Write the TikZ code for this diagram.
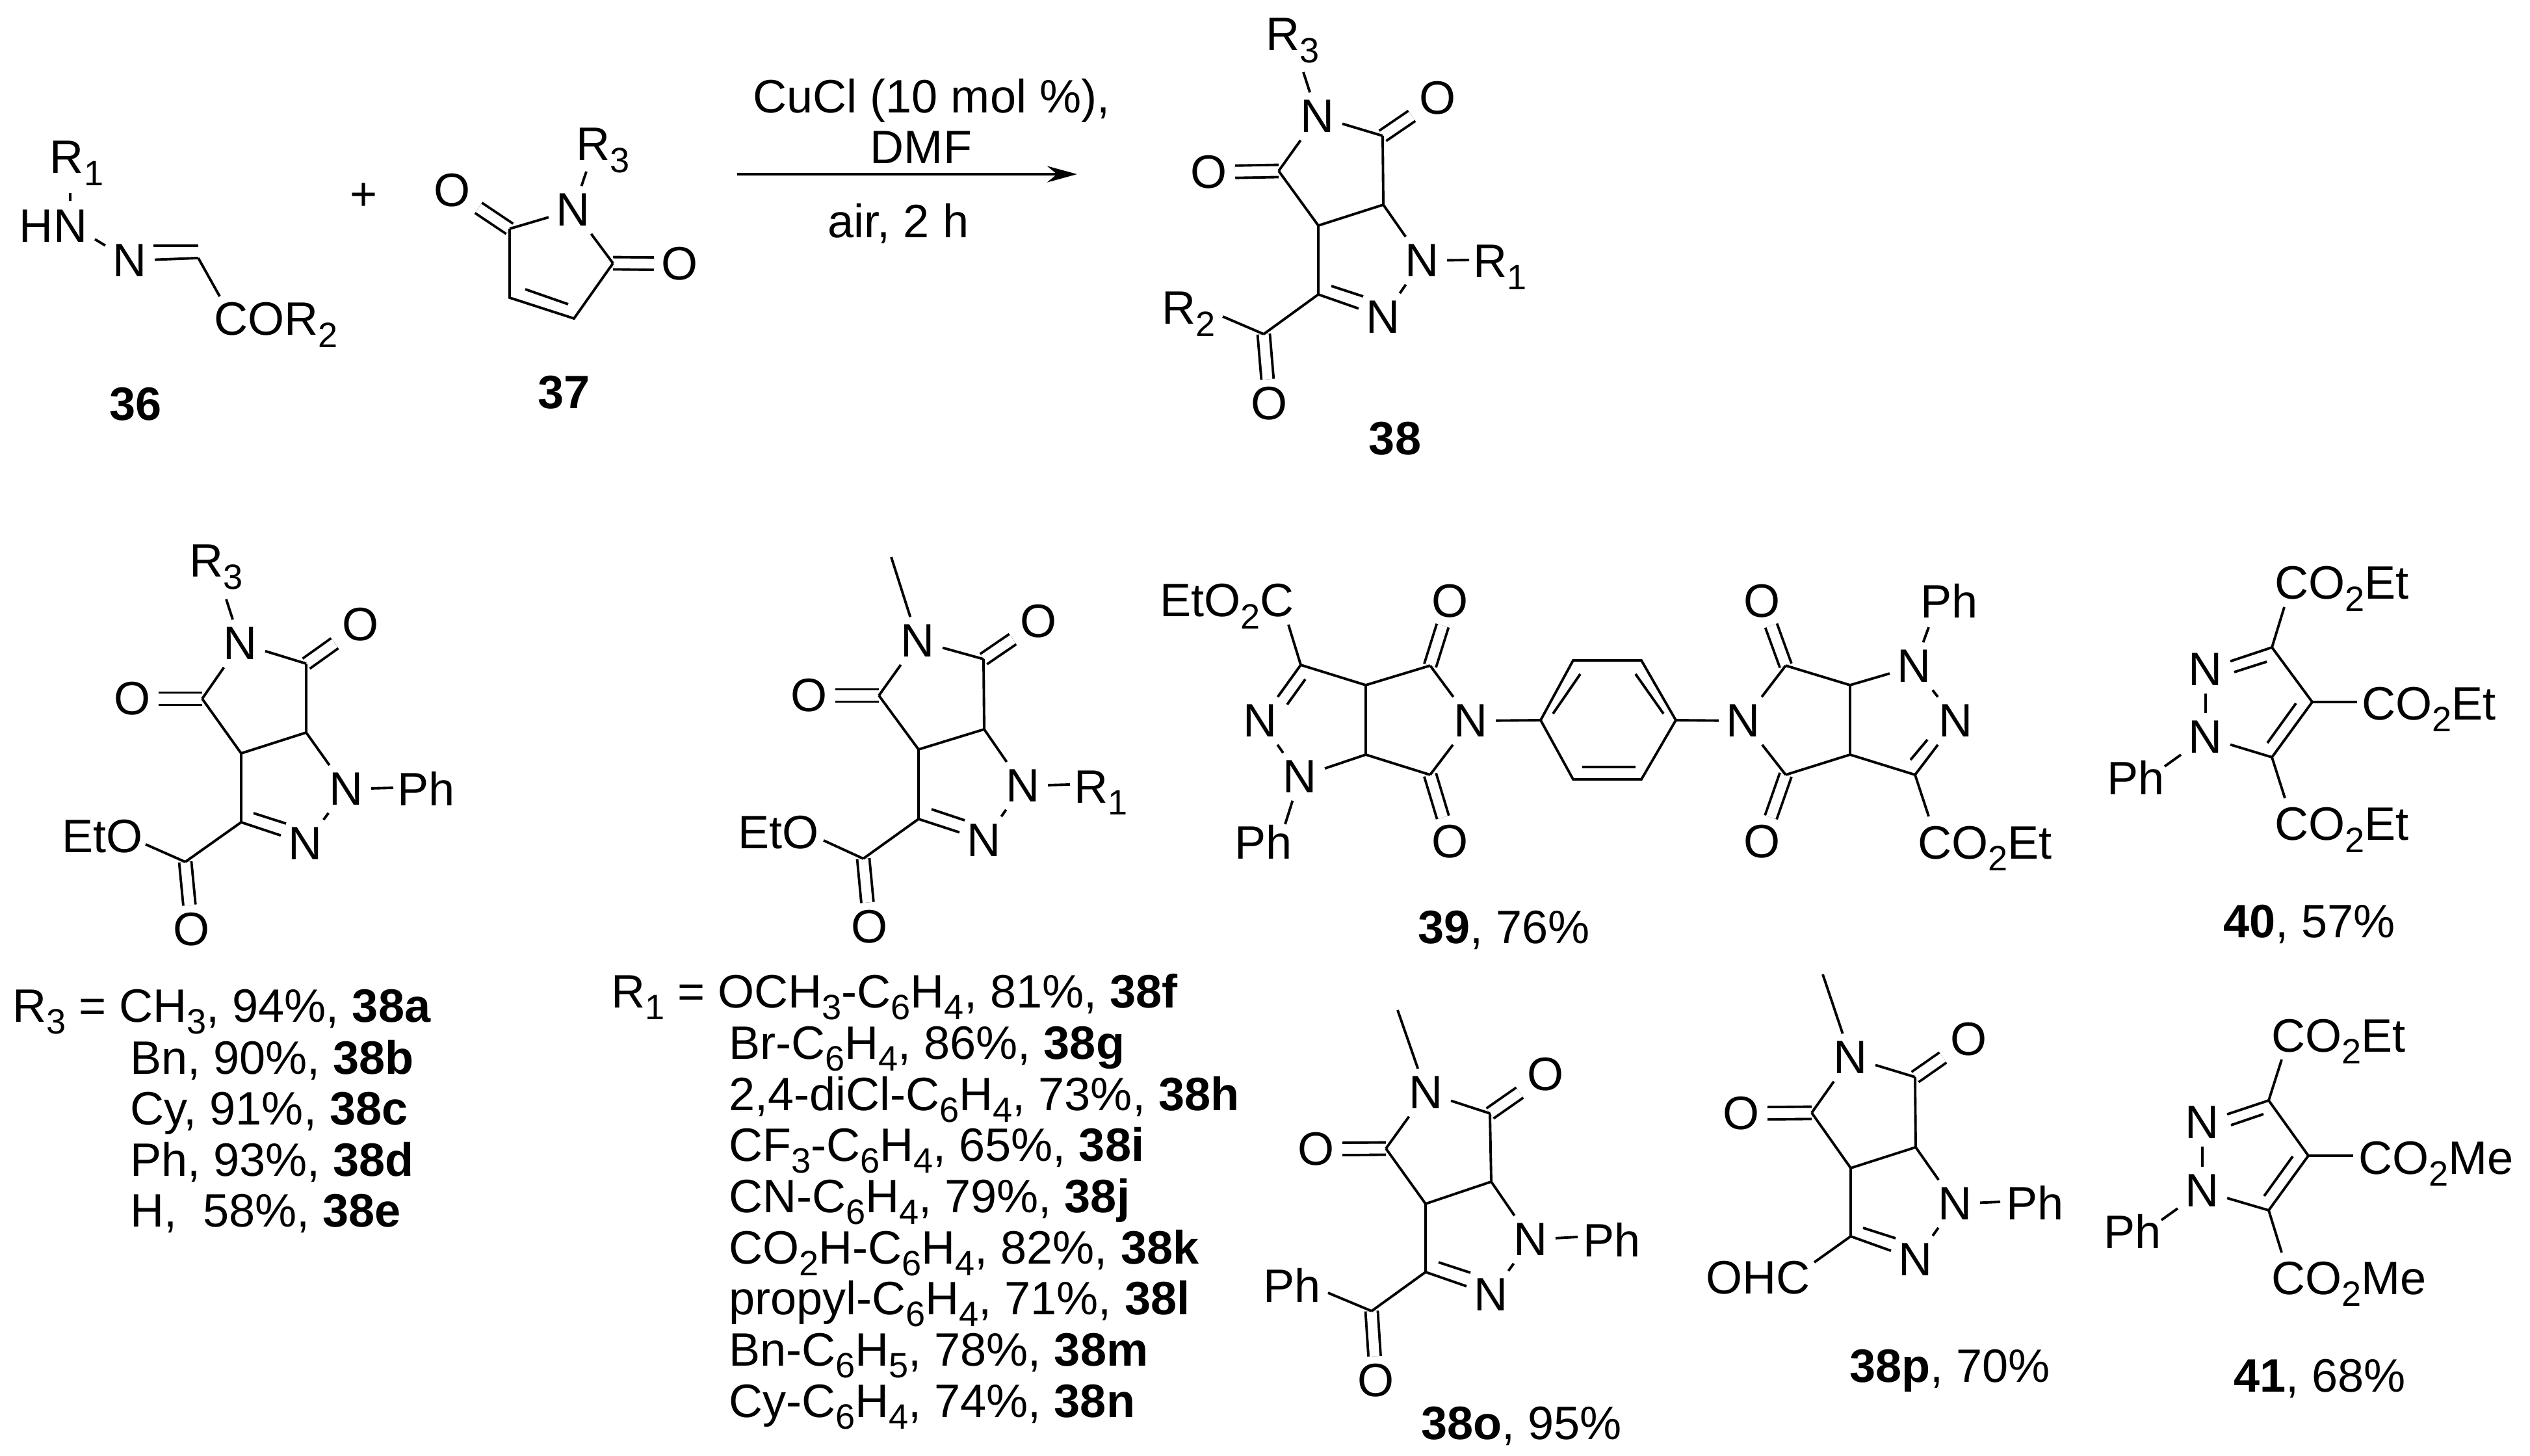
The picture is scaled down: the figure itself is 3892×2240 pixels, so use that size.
\documentclass[tikz,border=0pt]{standalone}
\usepackage{fontspec}
\usepackage{tikz}
\usetikzlibrary{arrows.meta}
\setmainfont{Liberation Sans}
\newcommand{\chemsize}{\fontsize{20.5}{24}\selectfont}
\newcommand{\chemsub}[1]{\raisebox{-.26em}{\fontsize{15.4}{18}\selectfont #1}}
\tikzset{
  atom/.style={inner sep=0pt,outer sep=.12cm,font=\chemsize},
  lab/.style={atom,anchor=base west,xshift=-.12cm},
  mid/.style={atom,anchor=base},
  dbl/.style={double,double distance=.15cm}
}
% bonds of the bicyclic core
\newcommand{\corebonds}[1]{
  \draw[dbl] (#1Cl) -- (#1Ol);
  \draw[dbl] (#1Cr) -- (#1Or);
  \draw (#1N) -- (#1Cl);
  \draw (#1N) -- (#1Cr);
  \draw (#1Cl) -- (#1Jl);
  \draw (#1Cr) -- (#1Jr);
  \draw (#1Jl) -- (#1Jr);
  \draw (#1Jr) -- (#1N1);
  \draw (#1Jl) -- (#1C3);
  \draw (#1C3) -- (#1N2);
  \draw (#1Ia) -- (#1Ib);
  \draw (#1N1) -- (#1N2);
}
% bonds of the pyrazole ring
\newcommand{\pyrbonds}[1]{
  \draw (#1Nt) -- (#1C1);
  \draw (#1Ia) -- (#1Ib);
  \draw (#1C1) -- (#1C2);
  \draw (#1C2) -- (#1C3);
  \draw (#1Ic) -- (#1Id);
  \draw (#1C3) -- (#1Nb);
  \draw (#1Nb) -- (#1Nt);
}
\begin{document}
\begin{tikzpicture}[x=.01cm,y=-.01cm,line width=1.1pt]
  \useasboundingbox (0,0) rectangle (3892,2240);
  % 36
  \node[lab] (sR) at (77,267) {R\chemsub{1}};
  \node[lab] (sHN) at (30,373) {HN};
  \node[atom] (sN) at (200,401) {N};
  \coordinate (sC) at (305,397);
  \coordinate (sIa) at (236,378);
  \coordinate (sIb) at (305,378);
  \node[lab] (sCO) at (329,516) {COR\chemsub{2}};
  \node[mid] (n36) at (209,647) {\textbf{36}};
  \draw ([shift={(43,30)}]sR.base west) -- ([shift={(90,-64)}]sHN.base west);
  \draw ([shift={(128,-5)}]sHN.base west) -- (sN);
  \draw (sN) -- (sC);
  \draw (sIa) -- (sIb);
  \draw (sC) -- ([shift={(21,-60)}]sCO.base west);
  \node[atom] (plus) at (560,303) {+};
  % 37
  \node[atom] (mOa) at (696,293) {O};
  \node[atom] (mN) at (882,323) {N};
  \node[atom] (mOb) at (1046,406) {O};
  \node[lab] (mR) at (886,247) {R\chemsub{3}};
  \coordinate (mCa) at (784,352);
  \coordinate (mCb) at (784,458);
  \coordinate (mCc) at (883,490);
  \coordinate (mCd) at (943,405);
  \coordinate (mIa) at (808,445);
  \coordinate (mIb) at (874,468);
  \node[mid] (n37) at (868,629) {\textbf{37}};
  \draw[dbl] (mCa) -- (mOa);
  \draw[dbl] (mCd) -- (mOb);
  \draw (mN) -- ([shift={(28,17)}]mR.base west);
  \draw (mN) -- (mCa);
  \draw (mCa) -- (mCb) -- (mCc) -- (mCd);
  \draw (mCd) -- (mN);
  \draw (mIa) -- (mIb);
  % reaction arrow
  \coordinate (arS) at (1134,268);
  \coordinate (arE) at (1657,268);
  \draw[-{Stealth[length=.46cm,width=.25cm]}] (arS) -- (arE);
  \node[mid] (cond) at (1433,174) {CuCl (10 mol \%),};
  \node[mid] (dmf) at (1417,252) {DMF};
  \node[mid] (air) at (1382,366) {air, 2 h};
  % 38
  \node[atom] (gN) at (2027,179) {N};
  \node[atom] (gOr) at (2212,151) {O};
  \node[atom] (gOl) at (1860,265) {O};
  \node[atom] (gN1) at (2188,401) {N};
  \node[atom] (gN2) at (2128,488) {N};
  \node[atom] (gOb) at (1953,621) {O};
  \node[lab] (gRc) at (1947,78) {R\chemsub{3}};
  \node[lab] (gRa) at (2266,427) {R\chemsub{1}};
  \node[lab] (gRb) at (1787,499) {R\chemsub{2}};
  \coordinate (gCr) at (2127,209);
  \coordinate (gCl) at (1967,263);
  \coordinate (gJr) at (2128,315);
  \coordinate (gJl) at (2028,347);
  \coordinate (gC3) at (2028,453);
  \coordinate (gCo) at (1944,514);
  \coordinate (gIa) at (2048,440);
  \coordinate (gIb) at (2097,456);
  \node[mid] (n38) at (2146,700) {\textbf{38}};
  \draw[dbl] (gCo) -- (gOb);
  \corebonds{g}
  \draw (gC3) -- (gCo);
  \draw (gN) -- ([shift={(70,33)}]gRc.base west);
  \draw (gN1) -- ([shift={(6,-27)}]gRa.base west);
  \draw (gCo) -- ([shift={(106,-12)}]gRb.base west);
  % 38a-e
  \node[atom] (aN) at (370,990) {N};
  \node[atom] (aOr) at (555,961) {O};
  \node[atom] (aOl) at (204,1075) {O};
  \node[atom] (aN1) at (533,1214) {N};
  \node[atom] (aN2) at (470,1298) {N};
  \node[atom] (aOb) at (295,1430) {O};
  \node[lab] (aR) at (291,888) {R\chemsub{3}};
  \node[lab] (aPh) at (611,1240) {Ph};
  \node[lab] (aEt) at (95,1311) {EtO};
  \coordinate (aCr) at (471,1021);
  \coordinate (aCl) at (311,1075);
  \coordinate (aJr) at (471,1127);
  \coordinate (aJl) at (371,1159);
  \coordinate (aC3) at (371,1265);
  \coordinate (aCo) at (285,1326);
  \coordinate (aIa) at (390,1251);
  \coordinate (aIb) at (440,1267);
  \draw[dbl] (aCo) -- (aOb);
  \corebonds{a}
  \draw (aC3) -- (aCo);
  \draw (aN) -- ([shift={(69,34)}]aR.base west);
  \draw (aN1) -- ([shift={(6,-28)}]aPh.base west);
  \draw (aCo) -- ([shift={(141,-12)}]aEt.base west);
  \node[lab] (ta) at (19,1572) {R\chemsub{3} = CH\chemsub{3}, 94\%, \textbf{38a}};
  \node[lab] (tb) at (200,1652) {Bn, 90\%, \textbf{38b}};
  \node[lab] (tc) at (200,1730) {Cy, 91\%, \textbf{38c}};
  \node[lab] (td) at (200,1809) {Ph, 93\%, \textbf{38d}};
  \node[lab] (te) at (200,1887) {H,\ \ 58\%, \textbf{38e}};
  % 38f-n
  \node[atom] (fN) at (1412,986) {N};
  \node[atom] (fOr) at (1598,956) {O};
  \node[atom] (fOl) at (1245,1070) {O};
  \node[atom] (fN1) at (1574,1209) {N};
  \node[atom] (fN2) at (1514,1293) {N};
  \node[atom] (fOb) at (1338,1426) {O};
  \node[lab] (fR) at (1652,1235) {R\chemsub{1}};
  \node[lab] (fEt) at (1135,1305) {EtO};
  \coordinate (fMe) at (1371,857);
  \coordinate (fCr) at (1513,1014);
  \coordinate (fCl) at (1352,1070);
  \coordinate (fJr) at (1514,1122);
  \coordinate (fJl) at (1413,1153);
  \coordinate (fC3) at (1413,1260);
  \coordinate (fCo) at (1328,1321);
  \coordinate (fIa) at (1433,1245);
  \coordinate (fIb) at (1484,1262);
  \draw[dbl] (fCo) -- (fOb);
  \corebonds{f}
  \draw (fC3) -- (fCo);
  \draw (fN) -- (fMe);
  \draw (fN1) -- ([shift={(6,-28)}]fR.base west);
  \draw (fCo) -- ([shift={(144,-12)}]fEt.base west);
  \node[lab] (tf) at (940,1550) {R\chemsub{1} = OCH\chemsub{3}-C\chemsub{6}H\chemsub{4}, 81\%, \textbf{38f}};
  \node[lab] (tg) at (1121,1629) {Br-C\chemsub{6}H\chemsub{4}, 86\%, \textbf{38g}};
  \node[lab] (th) at (1121,1708) {2,4-diCl-C\chemsub{6}H\chemsub{4}, 73\%, \textbf{38h}};
  \node[lab] (ti) at (1121,1786) {CF\chemsub{3}-C\chemsub{6}H\chemsub{4}, 65\%, \textbf{38i}};
  \node[lab] (tj) at (1121,1865) {CN-C\chemsub{6}H\chemsub{4}, 79\%, \textbf{38j}};
  \node[lab] (tk) at (1121,1944) {CO\chemsub{2}H-C\chemsub{6}H\chemsub{4}, 82\%, \textbf{38k}};
  \node[lab] (tl) at (1121,2022) {propyl-C\chemsub{6}H\chemsub{4}, 71\%, \textbf{38l}};
  \node[lab] (tm) at (1121,2101) {Bn-C\chemsub{6}H\chemsub{5}, 78\%, \textbf{38m}};
  \node[lab] (tn) at (1121,2180) {Cy-C\chemsub{6}H\chemsub{4}, 74\%, \textbf{38n}};
  % 39, left half
  \node[atom] (lN) at (2263,1109) {N};
  \node[atom] (lOl) at (2231,925) {O};
  \node[atom] (lOr) at (2231,1295) {O};
  \node[atom] (lN1) at (2000,1195) {N};
  \node[atom] (lN2) at (1939,1109) {N};
  \node[lab] (lEt) at (1784,949) {EtO\chemsub{2}C};
  \node[lab] (lPh) at (1899,1321) {Ph};
  \coordinate (lCl) at (2200,1024);
  \coordinate (lCr) at (2200,1192);
  \coordinate (lJl) at (2101,1054);
  \coordinate (lJr) at (2101,1161);
  \coordinate (lC3) at (2001,1023);
  \coordinate (lIa) at (2008,1045);
  \coordinate (lIb) at (1980,1084);
  \corebonds{l}
  \draw (lC3) -- ([shift={(210,12)}]lEt.base west);
  \draw (lN1) -- ([shift={(90,-53)}]lPh.base west);
  % 39, benzene linker
  \coordinate (bA) at (2370,1108);
  \coordinate (bB) at (2420,1016);
  \coordinate (bC) at (2525,1016);
  \coordinate (bD) at (2578,1108);
  \coordinate (bE) at (2525,1199);
  \coordinate (bF) at (2420,1199);
  \coordinate (bIa) at (2431,1037);
  \coordinate (bIb) at (2389,1098);
  \coordinate (bIc) at (2516,1037);
  \coordinate (bId) at (2559,1098);
  \coordinate (bIe) at (2434,1180);
  \coordinate (bIf) at (2516,1180);
  \draw (bA) -- (bB) -- (bC) -- (bD) -- (bE) -- (bF) -- cycle;
  \draw (bIa) -- (bIb);
  \draw (bIc) -- (bId);
  \draw (bIe) -- (bIf);
  % 39, right half
  \node[atom] (rN) at (2682,1109) {N};
  \node[atom] (rOl) at (2711,1295) {O};
  \node[atom] (rOr) at (2711,925) {O};
  \node[atom] (rN1) at (2945,1025) {N};
  \node[atom] (rN2) at (3009,1109) {N};
  \node[lab] (rPh) at (2954,951) {Ph};
  \node[lab] (rEt) at (2950,1321) {CO\chemsub{2}Et};
  \coordinate (rCl) at (2747,1192);
  \coordinate (rCr) at (2747,1024);
  \coordinate (rJl) at (2846,1161);
  \coordinate (rJr) at (2846,1054);
  \coordinate (rC3) at (2946,1192);
  \coordinate (rIa) at (2939,1169);
  \coordinate (rIb) at (2965,1138);
  \corebonds{r}
  \draw (lN) -- (bA);
  \draw (bD) -- (rN);
  \draw (rN1) -- ([shift={(25,14)}]rPh.base west);
  \draw (rC3) -- ([shift={(29,-65)}]rEt.base west);
  \node[lab] (n39) at (2181,1451) {\textbf{39}, 76\%};
  % 40
  \node[atom] (dNt) at (3393,1030) {N};
  \node[atom] (dNb) at (3393,1134) {N};
  \node[lab] (dPh) at (3241,1222) {Ph};
  \node[lab] (dEa) at (3499,922) {CO\chemsub{2}Et};
  \node[lab] (dEb) at (3633,1107) {CO\chemsub{2}Et};
  \node[lab] (dEc) at (3499,1293) {CO\chemsub{2}Et};
  \coordinate (dC1) at (3495,996);
  \coordinate (dC2) at (3557,1080);
  \coordinate (dC3) at (3495,1165);
  \coordinate (dIa) at (3487,1018);
  \coordinate (dIb) at (3437,1034);
  \coordinate (dIc) at (3532,1082);
  \coordinate (dId) at (3488,1143);
  \pyrbonds{d}
  \draw (dC1) -- ([shift={(27,12)}]dEa.base west);
  \draw (dC2) -- ([shift={(5,-27)}]dEb.base west);
  \draw (dC3) -- ([shift={(28,-65)}]dEc.base west);
  \draw (dNb) -- ([shift={(101,-43)}]dPh.base west);
  \node[lab] (n40) at (3420,1442) {\textbf{40}, 57\%};
  % 38o
  \node[atom] (oN) at (2194,1681) {N};
  \node[atom] (oOr) at (2378,1653) {O};
  \node[atom] (oOl) at (2025,1768) {O};
  \node[atom] (oN1) at (2355,1907) {N};
  \node[atom] (oN2) at (2294,1992) {N};
  \node[atom] (oOb) at (2117,2124) {O};
  \node[lab] (oPa) at (2435,1933) {Ph};
  \node[lab] (oPb) at (1943,2003) {Ph};
  \coordinate (oMe) at (2150,1554);
  \coordinate (oCr) at (2292,1713);
  \coordinate (oCl) at (2132,1767);
  \coordinate (oJr) at (2294,1818);
  \coordinate (oJl) at (2193,1852);
  \coordinate (oC3) at (2193,1957);
  \coordinate (oCo) at (2110,2017);
  \coordinate (oIa) at (2213,1942);
  \coordinate (oIb) at (2262,1958);
  \draw[dbl] (oCo) -- (oOb);
  \corebonds{o}
  \draw (oC3) -- (oCo);
  \draw (oN) -- (oMe);
  \draw (oN1) -- ([shift={(4,-30)}]oPa.base west);
  \draw (oCo) -- ([shift={(112,-14)}]oPb.base west);
  \node[lab] (n38o) at (2186,2214) {\textbf{38o}, 95\%};
  % 38p
  \node[atom] (pN) at (2847,1627) {N};
  \node[atom] (pOr) at (3029,1599) {O};
  \node[atom] (pOl) at (2679,1713) {O};
  \node[atom] (pN1) at (3008,1852) {N};
  \node[atom] (pN2) at (2947,1938) {N};
  \node[lab] (pPh) at (3086,1876) {Ph};
  \node[lab] (pCHO) at (2624,1990) {OHC};
  \coordinate (pMe) at (2804,1499);
  \coordinate (pCr) at (2946,1657);
  \coordinate (pCl) at (2787,1712);
  \coordinate (pJr) at (2947,1765);
  \coordinate (pJl) at (2847,1797);
  \coordinate (pC3) at (2847,1902);
  \coordinate (pIa) at (2866,1889);
  \coordinate (pIb) at (2916,1905);
  \corebonds{p}
  \draw (pN) -- (pMe);
  \draw (pN1) -- ([shift={(3,-27)}]pPh.base west);
  \draw (pC3) -- ([shift={(179,-48)}]pCHO.base west);
  \node[lab] (n38p) at (2845,2126) {\textbf{38p}, 70\%};
  % 41
  \node[atom] (eNt) at (3388,1727) {N};
  \node[atom] (eNb) at (3388,1832) {N};
  \node[lab] (ePh) at (3236,1920) {Ph};
  \node[lab] (eEa) at (3494,1618) {CO\chemsub{2}Et};
  \node[lab] (eEb) at (3628,1806) {CO\chemsub{2}Me};
  \node[lab] (eEc) at (3494,1991) {CO\chemsub{2}Me};
  \coordinate (eC1) at (3490,1693);
  \coordinate (eC2) at (3551,1778);
  \coordinate (eC3) at (3490,1862);
  \coordinate (eIa) at (3482,1714);
  \coordinate (eIb) at (3432,1731);
  \coordinate (eIc) at (3527,1779);
  \coordinate (eId) at (3483,1840);
  \pyrbonds{e}
  \draw (eC1) -- ([shift={(28,12)}]eEa.base west);
  \draw (eC2) -- ([shift={(4,-28)}]eEb.base west);
  \draw (eC3) -- ([shift={(28,-64)}]eEc.base west);
  \draw (eNb) -- ([shift={(101,-43)}]ePh.base west);
  \node[lab] (n41) at (3436,2141) {\textbf{41}, 68\%};
\end{tikzpicture}
\end{document}
